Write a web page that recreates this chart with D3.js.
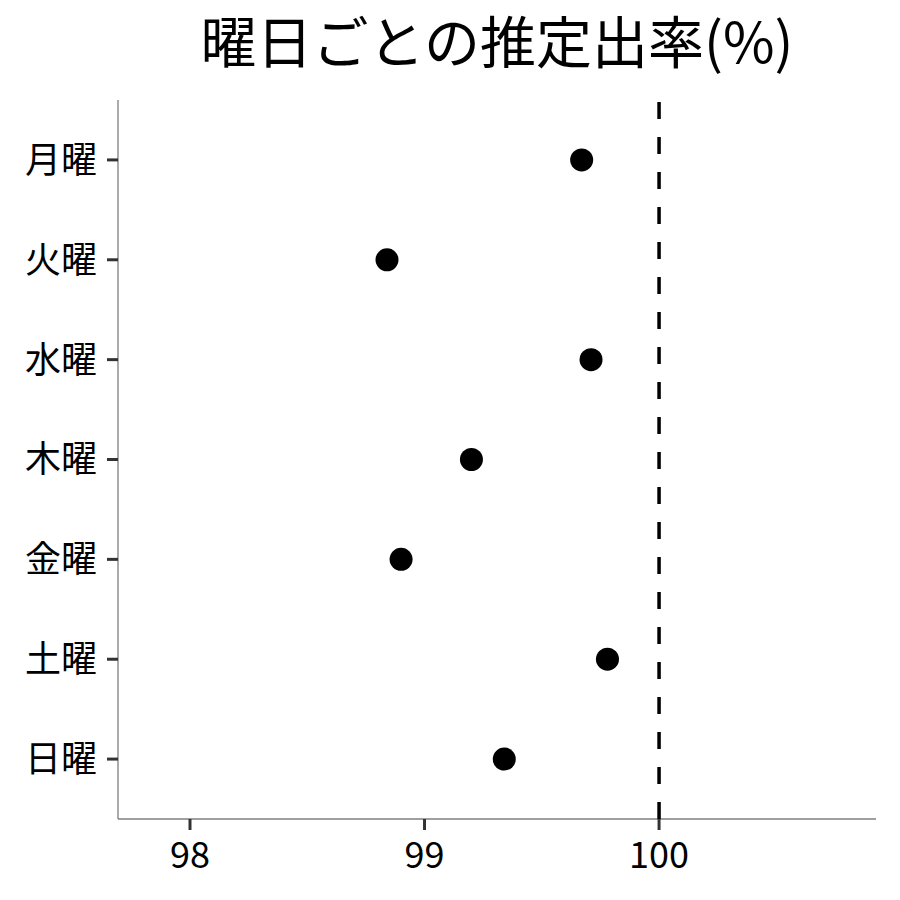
<!DOCTYPE html>
<html>
<head>
<meta charset="utf-8">
<script src="https://cdn.jsdelivr.net/npm/d3@7"></script>
<style>
body { margin: 0; background: #fff; }
svg { display: block; }
text { font-family: "Noto Sans CJK JP", "Noto Sans", sans-serif; }
</style>
</head>
<body>
<svg id="chart" width="900" height="900"></svg>
<script>
const days = ["月曜", "火曜", "水曜", "木曜", "金曜", "土曜", "日曜"];
const rates = [99.67, 98.84, 99.71, 99.20, 98.90, 99.78, 99.34];
const xTicks = [98, 99, 100];
const refValue = 100;
const titleText = "曜日ごとの推定出率(%)";

(function () {
const svg = d3.select("#chart");
const pLeft = 118, pRight = 876, pTop = 100, pBottom = 819;

const x = d3.scaleLinear().domain([97.693, 100.925]).range([pLeft, pRight]);
const y = d3.scalePoint().domain(days).range([pTop, pBottom]).padding(0.6);

// title
svg.append("text")
  .attr("x", (pLeft + pRight) / 2)
  .attr("y", 63)
  .attr("text-anchor", "middle")
  .attr("font-size", 56)
  .attr("fill", "#000")
  .text(titleText);

// axes lines
svg.append("line").attr("x1", pLeft).attr("x2", pLeft).attr("y1", pTop).attr("y2", pBottom)
  .attr("stroke", "#7f7f7f").attr("stroke-width", 1.3);
svg.append("line").attr("x1", pLeft).attr("x2", pRight).attr("y1", pBottom).attr("y2", pBottom)
  .attr("stroke", "#7f7f7f").attr("stroke-width", 1.3);

// y ticks
const yAxis = svg.append("g");
yAxis.selectAll("line").data(days).join("line")
  .attr("x1", pLeft - 11).attr("x2", pLeft)
  .attr("y1", d => y(d)).attr("y2", d => y(d))
  .attr("stroke", "#333").attr("stroke-width", 3);
yAxis.selectAll("text").data(days).join("text")
  .attr("x", pLeft - 21)
  .attr("y", d => y(d))
  .attr("dy", "0.36em")
  .attr("text-anchor", "end")
  .attr("font-size", 36)
  .attr("fill", "#000")
  .text(d => d);

// x ticks
const xAxis = svg.append("g");
xAxis.selectAll("line").data(xTicks).join("line")
  .attr("x1", d => x(d)).attr("x2", d => x(d))
  .attr("y1", pBottom).attr("y2", pBottom + 11)
  .attr("stroke", "#333").attr("stroke-width", 3);
xAxis.selectAll("text").data(xTicks).join("text")
  .attr("x", d => x(d))
  .attr("y", 868)
  .attr("text-anchor", "middle")
  .attr("font-size", 36)
  .attr("fill", "#000")
  .text(d => d);

// reference dashed line
svg.append("line")
  .attr("x1", x(refValue)).attr("x2", x(refValue))
  .attr("y1", pBottom).attr("y2", pTop)
  .attr("stroke", "#000").attr("stroke-width", 3.5)
  .attr("stroke-dasharray", "17,18");

// points
svg.append("g").selectAll("circle").data(days).join("circle")
  .attr("cx", (d, i) => x(rates[i]))
  .attr("cy", d => y(d))
  .attr("r", 11.5)
  .attr("fill", "#000");
})();
</script>
</body>
</html>
